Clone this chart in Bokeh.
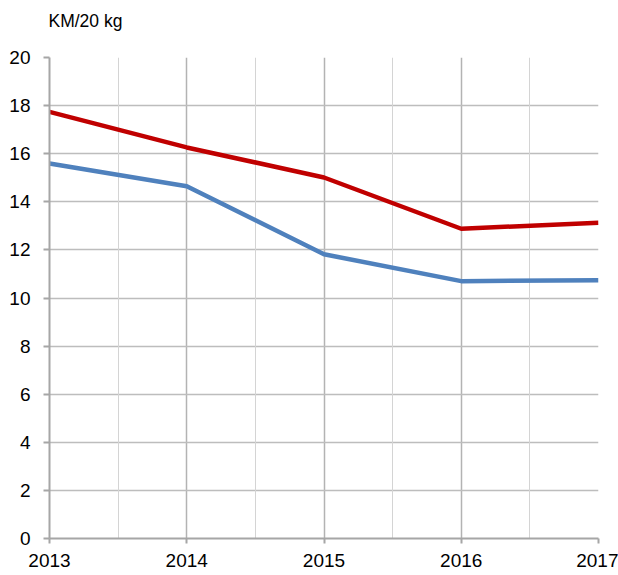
from bokeh.plotting import figure
from bokeh.models import FixedTicker, Grid, Range1d, Title
from bokeh.embed import file_html
from bokeh.resources import INLINE

years = [2013, 2014, 2015, 2016, 2017]
red_series = [17.74, 16.26, 15.01, 12.88, 13.13]
blue_series = [15.59, 14.65, 11.82, 10.70, 10.74]
y_ticks = [0, 2, 4, 6, 8, 10, 12, 14, 16, 18, 20]
half_ticks = [2013.5, 2014.5, 2015.5, 2016.5]
unit_label = "KM/20 kg"

FONT = "Liberation Sans"

p = figure(width=618, height=575, output_backend="svg", toolbar_location=None,
           x_range=Range1d(2013, 2017), y_range=Range1d(0, 20),
           min_border_left=49, min_border_right=20, min_border_top=57, min_border_bottom=37)
p.outline_line_color = None
p.background_fill_color = "white"
p.border_fill_color = "white"

p.title.text = unit_label
p.title.text_font = FONT
p.title.text_font_size = "17.5px"
p.title.text_font_style = "normal"
p.title.text_color = "#000000"
p.title.align = "left"
p.title.vertical_align = "bottom"
p.title.offset = -1
p.title.standoff = 0

# spacer between the unit label and the frame
p.add_layout(Title(text=" ", text_font_size="1px", standoff=24), "above")

# axes
for ax in (p.xaxis[0], p.yaxis[0]):
    ax.axis_line_color = "#a6a6a6"
    ax.axis_line_width = 2
    ax.major_tick_line_color = "#a6a6a6"
    ax.major_tick_line_width = 2
    ax.major_tick_in = 0
    ax.minor_tick_line_color = None
    ax.major_label_text_font = FONT
    ax.major_label_text_font_size = "19px"
    ax.major_label_text_color = "#000000"

p.xaxis[0].ticker = FixedTicker(ticks=years)
p.xaxis[0].major_tick_out = 5
p.xaxis[0].major_label_standoff = 10
p.yaxis[0].ticker = FixedTicker(ticks=y_ticks)
p.yaxis[0].major_tick_out = 6
p.yaxis[0].major_label_standoff = 13

# grids
p.xgrid[0].ticker = FixedTicker(ticks=years)
p.xgrid[0].grid_line_color = "#b3b3b3"
p.xgrid[0].grid_line_width = 1.5
p.ygrid[0].ticker = FixedTicker(ticks=y_ticks)
p.ygrid[0].grid_line_color = "#bdbdbd"
p.ygrid[0].grid_line_width = 1.5
half_grid = Grid(dimension=0, ticker=FixedTicker(ticks=half_ticks),
                 grid_line_color="#d4d4d4", grid_line_width=1)
p.add_layout(half_grid)

# series
p.line(years, blue_series, line_color="#4F81BD", line_width=4.5)
p.line(years, red_series, line_color="#C00000", line_width=4.5)

open("out.html", "w").write(file_html(p, INLINE))
